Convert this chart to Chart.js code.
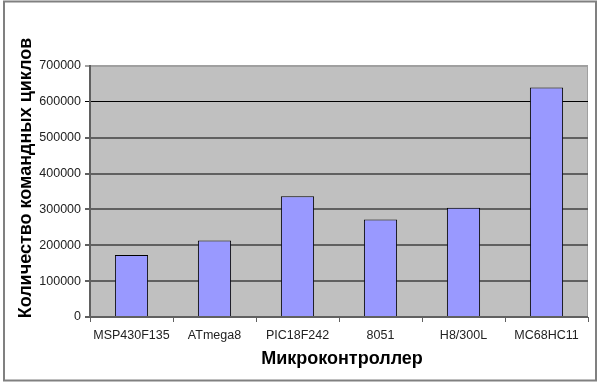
<!DOCTYPE html>
<html>
<head>
<meta charset="utf-8">
<script src="https://cdn.jsdelivr.net/npm/chart.js@4/dist/chart.umd.min.js"></script>
<style>
  html, body { margin: 0; padding: 0; background: #fff; }
  #wrap { width: 600px; height: 385px; position: relative; }
</style>
</head>
<body>
<div id="wrap"><canvas id="c" width="600" height="385"></canvas></div>
<script>
const categories = ['MSP430F135', 'ATmega8', 'PIC18F242', '8051', 'H8/300L', 'MC68HC11'];
const cycles = [173000, 213000, 337000, 272000, 305000, 640000];
const yTicks = [0, 100000, 200000, 300000, 400000, 500000, 600000, 700000];
const xTitle = 'Микроконтроллер';
const yTitle = 'Количество командных циклов';

const frame = {
  id: 'frame',
  beforeDraw(chart) {
    const ctx = chart.ctx;
    const a = chart.chartArea;
    ctx.save();
    ctx.fillStyle = '#ffffff';
    ctx.fillRect(0, 0, chart.width, chart.height);
    ctx.fillStyle = '#c0c0c0';
    ctx.fillRect(a.left, a.top, a.right - a.left, a.bottom - a.top);
    ctx.strokeStyle = '#a0a0a0';
    ctx.lineWidth = 1;
    ctx.beginPath();
    ctx.moveTo(a.left, a.top + 0.5);
    ctx.lineTo(a.right - 0.5, a.top + 0.5);
    ctx.lineTo(a.right - 0.5, a.bottom);
    ctx.stroke();
    ctx.restore();
  },
  afterDraw(chart) {
    const ctx = chart.ctx;
    const a = chart.chartArea;
    ctx.save();
    ctx.strokeStyle = '#808080';
    ctx.lineWidth = 2;
    ctx.strokeRect(4, 1.5, 592, 379);
    ctx.fillStyle = '#000';
    ctx.font = 'bold 18px "Liberation Sans", Arial, sans-serif';
    ctx.textAlign = 'center';
    ctx.textBaseline = 'alphabetic';
    ctx.fillText(xTitle, (a.left + a.right) / 2 + 3, 364);
    ctx.translate(31, 178);
    ctx.rotate(-Math.PI / 2);
    ctx.fillText(yTitle, 0, 0);
    ctx.restore();
  }
};

new Chart(document.getElementById('c'), {
  type: 'bar',
  data: {
    labels: categories,
    datasets: [{
      data: cycles,
      backgroundColor: '#9999ff',
      borderColor: '#000000',
      borderWidth: 1,
      categoryPercentage: 1.0,
      barPercentage: 0.4
    }]
  },
  options: {
    responsive: false,
    animation: false,
    devicePixelRatio: 1,
    layout: { padding: { top: 66, right: 12, left: 0, bottom: 0 } },
    plugins: { legend: { display: false }, tooltip: { enabled: false } },
    scales: {
      x: {
        offset: true,
        grid: { offset: true, drawOnChartArea: false, drawTicks: true, tickLength: 5, color: '#606060' },
        border: { color: '#606060', width: 1 },
        ticks: { color: '#222', font: { family: 'Liberation Sans', size: 12.5 }, padding: 6, maxRotation: 0, autoSkip: false },
        afterFit(s) { s.height = 385 - 317; }
      },
      y: {
        min: 0, max: 700000,
        afterBuildTicks(s) { s.ticks = yTicks.map(v => ({ value: v })); },
        grid: {
          drawTicks: true, tickLength: 5,
          color: c => (c.tick && c.tick.value === 600000) ? '#000000' : (c.tick && c.tick.value === 700000 ? '#a0a0a0' : '#606060'),
          lineWidth: c => (c.tick && c.tick.value === 600000) ? 1 : 2
        },
        border: { color: '#606060', width: 2 },
        ticks: { color: '#222', font: { family: 'Liberation Sans', size: 12.5 }, padding: 4, callback: v => String(v) },
        afterFit(s) { s.width = 90; }
      }
    }
  },
  plugins: [frame]
});
</script>
</body>
</html>
